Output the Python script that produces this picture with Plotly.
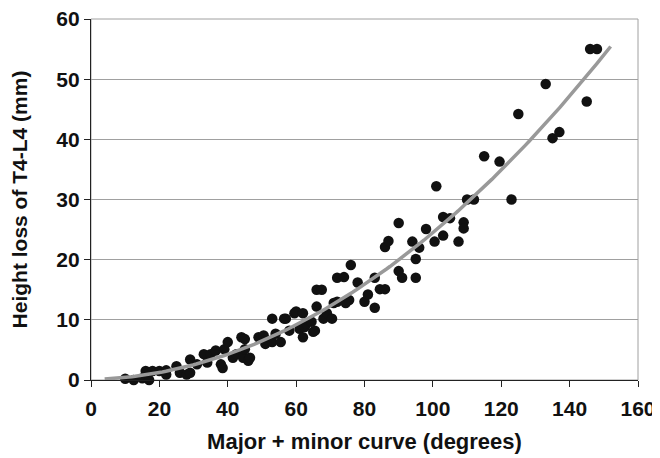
import numpy as np
import plotly.graph_objects as go

# Scatter data: (major + minor curve in degrees, height loss of T4-L4 in mm)
curve_deg = [10, 12.5, 15, 17, 16, 18, 20, 22, 22, 25, 26, 28, 29, 29, 31, 33, 34, 35, 36.5, 38,
             38.5, 39, 40, 41.5, 42.5, 44, 44.5, 45, 45, 46, 46.5, 49, 50.5, 51, 53, 53, 54, 55.5,
             56.5, 57, 58, 59.5, 60, 61, 62, 62, 62.5, 63, 64.5, 65, 65.5, 66, 66, 67.5, 68, 69,
             70.5, 71, 72, 72, 74, 74.5, 75.5, 76, 78, 80, 81, 83, 83, 84.5, 86, 86, 87, 90, 90,
             91, 94, 95, 95, 96, 98, 100.5, 101, 103, 103, 105, 107.5, 109, 109, 110, 112, 115,
             119.5, 123, 125, 133, 135, 137, 145, 146, 148]
height_loss = [0.2, 0, 0.3, 0, 1.5, 1.5, 1.5, 1.6, 0.9, 2.3, 1.2, 0.9, 3.4, 1.2, 2.6, 4.3, 2.9, 4.3,
               4.9, 2.6, 2.0, 5.1, 6.3, 3.7, 4.3, 7.1, 3.7, 5.1, 6.8, 3.2, 3.7, 7.1, 7.4, 6.0, 10.2,
               6.3, 7.7, 6.3, 10.2, 10.2, 8.2, 11.1, 11.4, 8.5, 11.1, 7.1, 8.8, 9.4, 9.7, 8.0, 8.2,
               12.2, 15.0, 15.0, 10.2, 11.1, 10.2, 12.8, 13, 17, 17.1, 12.8, 13.3, 19.1, 16.2, 13,
               14.2, 12, 17, 15.1, 15.1, 22.1, 23.1, 26.1, 18.1, 17, 23, 20.1, 17, 22, 25.1, 23,
               32.2, 24, 27.1, 26.9, 23, 26.2, 25.2, 30, 30, 37.2, 36.3, 30, 44.2, 49.2, 40.2, 41.2,
               46.3, 55, 55]

x_ticks = [0, 20, 40, 60, 80, 100, 120, 140, 160]
y_ticks = [0, 10, 20, 30, 40, 50, 60]

# Second-order polynomial trendline fitted to the scatter data
coef = np.polyfit(curve_deg, height_loss, 2)
trend_x = np.linspace(4, 152, 150)
trend_y = np.polyval(coef, trend_x)

FONT = "Liberation Sans, Arial, sans-serif"

fig = go.Figure()
fig.add_trace(go.Scatter(
    x=curve_deg, y=height_loss, mode="markers",
    marker=dict(color="#111111", size=10.5, line=dict(width=0)),
    showlegend=False, hoverinfo="x+y", cliponaxis=False,
))
fig.add_trace(go.Scatter(
    x=trend_x, y=trend_y, mode="lines",
    line=dict(color="#999999", width=3.5),
    showlegend=False, hoverinfo="skip",
))

# The page body adds an 8px margin, so the figure is 8px smaller than the window
fig.update_layout(
    width=652, height=450,
    margin=dict(l=83, r=22, t=11, b=78, autoexpand=False),
    paper_bgcolor="white", plot_bgcolor="white",
    font=dict(family=FONT, size=21, color="#111111", weight="bold"),
    shapes=[dict(type="rect", xref="paper", yref="paper", x0=0, y0=0, x1=1, y1=1,
                 line=dict(color="#a0a0a0", width=1), layer="below")],
)
fig.update_xaxes(
    range=[-0.0001, 160.0001], tickvals=x_ticks, ticktext=[str(v) for v in x_ticks],
    showgrid=False, zeroline=False, automargin=False,
    showline=True, linecolor="#222222", linewidth=1.2,
    ticks="outside", ticklen=6, tickcolor="#222222", tickwidth=1.2,
    ticklabelstandoff=4, ticklabeloverflow="allow",
    tickfont=dict(family=FONT, size=21, weight="bold"),
    title=dict(text="Major + minor curve (degrees)", font=dict(family=FONT, size=22, weight="bold"),
               standoff=14),
)
fig.update_yaxes(
    range=[0, 60], tickvals=y_ticks, ticktext=[str(v) for v in y_ticks],
    showgrid=True, gridcolor="#a0a0a0", gridwidth=1, zeroline=False, automargin=False,
    showline=True, linecolor="#222222", linewidth=1.2,
    ticks="outside", ticklen=6, tickcolor="#222222", tickwidth=1.2,
    ticklabeloverflow="allow",
    tickfont=dict(family=FONT, size=21, weight="bold"),
    title=dict(text="Height loss of T4-L4 (mm)", font=dict(family=FONT, size=21, weight="bold"),
               standoff=24),
)

fig.write_html("out.html")
